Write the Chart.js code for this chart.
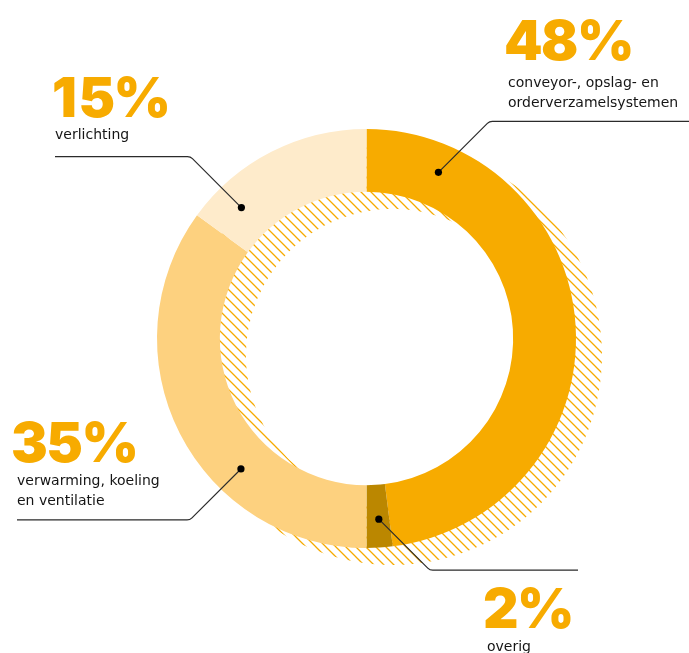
<!DOCTYPE html>
<html>
<head>
<meta charset="utf-8">
<script src="https://cdn.jsdelivr.net/npm/chart.js@4.4.1/dist/chart.umd.min.js"></script>
<style>
html, body { margin: 0; padding: 0; background: #fff; }
#wrap { position: relative; width: 689px; height: 653px; overflow: hidden; }
#donut { position: absolute; left: 0; top: 0; }
.pct { position: absolute; font-family: Inter, Roboto, sans-serif; font-weight: 900; font-size: 55px; line-height: 60px; letter-spacing: -1.5px; color: #f7ab00; white-space: nowrap; }
.lbl { position: absolute; font-family: 'DejaVu Sans', sans-serif; font-size: 14px; line-height: 20px; color: #151515; white-space: nowrap; }
</style>
</head>
<body>
<div id="wrap">
    <canvas id="donut" width="689" height="653"></canvas>
    <div class="pct" style="left:504px; top:10px">48%</div>
    <div class="lbl" style="left:508px; top:72px">conveyor-, opslag- en<br>orderverzamelsystemen</div>
    <div class="pct" style="left:52px; top:67px"><span style="letter-spacing:1.5px">1</span>5%</div>
    <div class="lbl" style="left:55px; top:124px">verlichting</div>
    <div class="pct" style="left:11px; top:412px">35%</div>
    <div class="lbl" style="left:17px; top:470px">verwarming, koeling<br>en ventilatie</div>
    <div class="pct" style="left:483px; top:578px">2%</div>
    <div class="lbl" style="left:487px; top:636px">overig</div>
</div>
<script>
// Data
const categories = [
    'conveyor-, opslag- en orderverzamelsystemen',
    'overig',
    'verwarming, koeling en ventilatie',
    'verlichting',
]
const shares = [48, 2, 35, 15]

// Colors
const orange = '#f7ab00'
const darkGold = '#bb8700'
const lightOrange = '#fdd17f'
const cream = '#feebcb'
const hatchColor = '#f6aa00'

// leader lines: angle (deg from top, clockwise) of the dot, direction of the elbow, end of the line
const callouts = [
    { angle: 23.4, sx: 1, sy: -1, endX: 689 },
    { angle: 176.1, sx: 1, sy: 1, endX: 578 },
    { angle: 223.9, sx: -1, sy: 1, endX: 17 },
    { angle: 316.3, sx: -1, sy: -1, endX: 55 },
]

function makeHatch(ctx) {
    const s = 10
    const c = document.createElement('canvas')
    c.width = s
    c.height = s
    const p = c.getContext('2d')
    p.strokeStyle = hatchColor
    p.lineWidth = 1.3
    p.beginPath()
    p.moveTo(-1, -1)
    p.lineTo(s + 1, s + 1)
    p.moveTo(-2, s - 2)
    p.lineTo(2, s + 2)
    p.moveTo(s - 2, -2)
    p.lineTo(s + 2, 2)
    p.stroke()
    return ctx.createPattern(c, 'repeat')
}

const hatchShadow = {
    id: 'hatchShadow',
    beforeDatasetsDraw(chart) {
        const arc = chart.getDatasetMeta(0).data[0]
        const { x, y, innerRadius, outerRadius } = arc.getProps(['x', 'y', 'innerRadius', 'outerRadius'], true)
        const ctx = chart.ctx
        ctx.save()
        ctx.translate(26, 17)
        ctx.beginPath()
        ctx.arc(x, y, outerRadius, 0, Math.PI * 2)
        ctx.arc(x, y, innerRadius, Math.PI * 2, 0, true)
        ctx.closePath()
        ctx.fillStyle = makeHatch(ctx)
        ctx.fill()
        ctx.restore()
    },
}

const leaderLines = {
    id: 'leaderLines',
    afterDatasetsDraw(chart) {
        const arc = chart.getDatasetMeta(0).data[0]
        const { x, y, innerRadius, outerRadius } = arc.getProps(['x', 'y', 'innerRadius', 'outerRadius'], true)
        const r = (innerRadius + outerRadius) / 2 + 3
        const ctx = chart.ctx
        ctx.save()
        callouts.forEach((c) => {
            const a = (c.angle * Math.PI) / 180
            const dx = x + r * Math.sin(a)
            const dy = y - r * Math.cos(a)
            const ex = dx + c.sx * 51
            const ey = dy + c.sy * 51
            ctx.strokeStyle = '#2b2b2b'
            ctx.lineWidth = 1.2
            ctx.beginPath()
            ctx.moveTo(dx, dy)
            ctx.arcTo(ex, ey, c.endX, ey, 7)
            ctx.lineTo(c.endX, ey)
            ctx.stroke()
            ctx.fillStyle = '#000'
            ctx.beginPath()
            ctx.arc(dx, dy, 3.6, 0, Math.PI * 2)
            ctx.fill()
        })
        ctx.restore()
    },
}

new Chart(document.getElementById('donut'), {
    type: 'doughnut',
    data: {
        labels: categories,
        datasets: [
            {
                data: shares,
                backgroundColor: [orange, darkGold, lightOrange, cream],
                borderWidth: 0,
            },
        ],
    },
    options: {
        responsive: false,
        animation: false,
        events: [],
        cutout: '70%',
        layout: { padding: { left: 157, right: 113, top: 129, bottom: 105 } },
        plugins: { legend: { display: false }, tooltip: { enabled: false } },
    },
    plugins: [hatchShadow, leaderLines],
})
</script>
</body>
</html>
